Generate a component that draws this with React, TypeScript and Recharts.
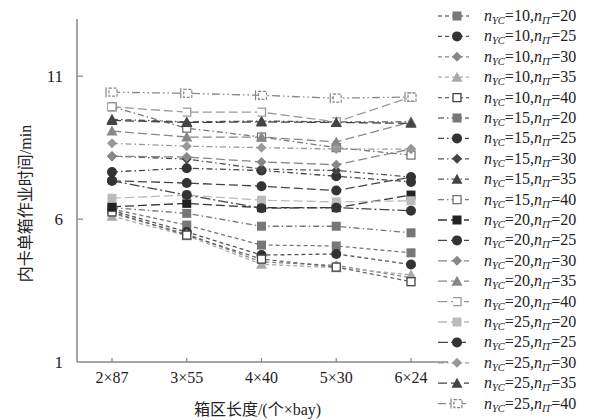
import React from 'react';
import { LineChart, Line, XAxis, YAxis, Legend } from 'recharts';

// 箱区长度 (x categories)
const categories = ['2×87', '3×55', '4×40', '5×30', '6×24'];
const yTicks = [1, 6, 11];

// 内卡单箱作业时间/min
const yc10it20 = [6.35, 5.79, 5.09, 5.06, 4.82];
const yc10it25 = [6.3, 5.55, 4.74, 4.78, 4.41];
const yc10it30 = [6.2, 5.48, 4.5, 4.38, 3.95];
const yc10it35 = [6.1, 5.42, 4.42, 4.3, 4.05];
const yc10it40 = [6.25, 5.44, 4.6, 4.32, 3.81];
const yc15it20 = [6.4, 6.2, 5.75, 5.75, 5.52];
const yc15it25 = [7.65, 7.78, 7.7, 7.5, 7.3];
const yc15it30 = [8.2, 8.1, 7.75, 7.7, 7.47];
const yc15it35 = [9.49, 9.4, 9.43, 9.4, 9.4];
const yc15it40 = [9.93, 9.18, 8.87, 8.5, 8.24];
const yc20it20 = [6.43, 6.55, 6.4, 6.4, 6.84];
const yc20it25 = [7.34, 7.26, 7.15, 7.0, 7.47];
const yc20it30 = [8.2, 8.17, 8.0, 7.9, 8.45];
const yc20it35 = [9.08, 8.87, 8.87, 8.7, 9.4];
const yc20it40 = [9.93, 9.74, 9.74, 9.4, 10.27];
const yc25it20 = [6.73, 6.84, 6.66, 6.6, 6.64];
const yc25it25 = [7.34, 6.84, 6.38, 6.4, 6.29];
const yc25it30 = [8.65, 8.55, 8.5, 8.45, 8.45];
const yc25it35 = [9.45, 9.38, 9.4, 9.38, 9.35];
const yc25it40 = [10.44, 10.4, 10.33, 10.23, 10.27];

type Shape = 'square' | 'circle' | 'diamond' | 'triangle' | 'open' | 'openBar' | 'openHalf';

interface Series {
  yc: number;
  it: number;
  values: number[];
  shape: Shape;
  fill: string;
  stroke: string;
  line: string;
  dash: string;
}

const DASH = '4 3';
const DASHDOT = '6 3 1.5 3';
const LONG = '9 4';
const LONGDOT = '10 3 2 3';
const DASHDOTDOT = '8 3 1.5 3 1.5 3';

const series: Series[] = [
  { yc: 10, it: 20, values: yc10it20, shape: 'square', fill: '#777', stroke: '#777', line: '#777', dash: DASH },
  { yc: 10, it: 25, values: yc10it25, shape: 'circle', fill: '#333', stroke: '#333', line: '#555', dash: DASH },
  { yc: 10, it: 30, values: yc10it30, shape: 'diamond', fill: '#888', stroke: '#888', line: '#888', dash: DASH },
  { yc: 10, it: 35, values: yc10it35, shape: 'triangle', fill: '#aaa', stroke: '#aaa', line: '#aaa', dash: DASH },
  { yc: 10, it: 40, values: yc10it40, shape: 'open', fill: '#fff', stroke: '#444', line: '#666', dash: DASH },
  { yc: 15, it: 20, values: yc15it20, shape: 'square', fill: '#777', stroke: '#777', line: '#777', dash: DASHDOT },
  { yc: 15, it: 25, values: yc15it25, shape: 'circle', fill: '#333', stroke: '#333', line: '#444', dash: DASHDOT },
  { yc: 15, it: 30, values: yc15it30, shape: 'diamond', fill: '#444', stroke: '#444', line: '#555', dash: DASHDOT },
  { yc: 15, it: 35, values: yc15it35, shape: 'triangle', fill: '#444', stroke: '#444', line: '#555', dash: DASHDOT },
  { yc: 15, it: 40, values: yc15it40, shape: 'open', fill: '#fff', stroke: '#777', line: '#777', dash: DASHDOT },
  { yc: 20, it: 20, values: yc20it20, shape: 'square', fill: '#222', stroke: '#222', line: '#333', dash: LONG },
  { yc: 20, it: 25, values: yc20it25, shape: 'circle', fill: '#333', stroke: '#333', line: '#444', dash: LONG },
  { yc: 20, it: 30, values: yc20it30, shape: 'diamond', fill: '#888', stroke: '#888', line: '#888', dash: LONG },
  { yc: 20, it: 35, values: yc20it35, shape: 'triangle', fill: '#888', stroke: '#888', line: '#888', dash: LONG },
  { yc: 20, it: 40, values: yc20it40, shape: 'openHalf', fill: '#fff', stroke: '#999', line: '#999', dash: LONG },
  { yc: 25, it: 20, values: yc25it20, shape: 'square', fill: '#bbb', stroke: '#bbb', line: '#bbb', dash: LONG },
  { yc: 25, it: 25, values: yc25it25, shape: 'circle', fill: '#333', stroke: '#333', line: '#444', dash: LONGDOT },
  { yc: 25, it: 30, values: yc25it30, shape: 'diamond', fill: '#999', stroke: '#999', line: '#999', dash: DASHDOT },
  { yc: 25, it: 35, values: yc25it35, shape: 'triangle', fill: '#444', stroke: '#444', line: '#444', dash: LONG },
  { yc: 25, it: 40, values: yc25it40, shape: 'openBar', fill: '#fff', stroke: '#888', line: '#888', dash: DASHDOTDOT },
];

const data = categories.map((name, i) => {
  const row: Record<string, any> = { name };
  series.forEach((s, k) => {
    row['s' + k] = s.values[i];
  });
  return row;
});

const SERIF = 'Liberation Serif, DejaVu Serif, serif';
const CJK = 'Liberation Serif, Noto Sans CJK SC, serif';

const Marker = ({ shape, cx, cy, fill, stroke }: { shape: Shape; cx: number; cy: number; fill: string; stroke: string }) => {
  const h = 4.5;
  switch (shape) {
    case 'square':
      return <rect x={cx - h} y={cy - h} width={h * 2} height={h * 2} fill={fill} />;
    case 'circle':
      return <circle cx={cx} cy={cy} r={5} fill={fill} />;
    case 'diamond':
      return <polygon points={`${cx},${cy - 5} ${cx + 5},${cy} ${cx},${cy + 5} ${cx - 5},${cy}`} fill={fill} />;
    case 'triangle':
      return <polygon points={`${cx},${cy - 5.5} ${cx + 5.5},${cy + 4.5} ${cx - 5.5},${cy + 4.5}`} fill={fill} />;
    case 'open':
      return <rect x={cx - 4} y={cy - 4} width={8} height={8} fill="#fff" stroke={stroke} strokeWidth={1.3} />;
    case 'openHalf':
      return (
        <g>
          <rect x={cx - 4} y={cy - 4} width={8} height={8} fill="#fff" stroke="none" />
          <path d={`M${cx - 4},${cy - 4} H${cx + 4} V${cy + 4} H${cx - 4}`} fill="none" stroke={stroke} strokeWidth={1.3} />
        </g>
      );
    case 'openBar':
      return (
        <g>
          <rect x={cx - 3} y={cy - 4} width={8} height={8} fill="#fff" stroke={stroke} strokeWidth={1.2} strokeDasharray="3 1.5" />
          <line x1={cx - 6} x2={cx - 6} y1={cy - 5} y2={cy + 5} stroke={stroke} strokeWidth={1.2} />
        </g>
      );
    default:
      return null;
  }
};

const makeDot = (s: Series, k: number) => (props: any) => (
  <Marker key={`dot-${k}-${props.index}`} shape={s.shape} cx={props.cx} cy={props.cy} fill={s.fill} stroke={s.stroke} />
);

const YTick = (props: any) => {
  const { x, y, payload } = props;
  const ax = x + 8; // tickSize + tickMargin back to the axis line
  return (
    <g>
      {payload.value !== 1 && <line x1={ax} x2={ax + 6} y1={y} y2={y} stroke="#888" strokeWidth={1.2} />}
      <text x={ax - 14} y={y} dy="0.35em" textAnchor="end" fontFamily={SERIF} fontSize={17} fill="#222">
        {payload.value}
      </text>
    </g>
  );
};

const XTick = (props: any) => {
  const { x, y, payload } = props;
  const ay = y - 8;
  return (
    <g>
      <line x1={x} x2={x} y1={ay} y2={ay - 4} stroke="#888" strokeWidth={1.2} />
      <text x={x} y={ay + 21} textAnchor="middle" fontFamily={SERIF} fontSize={16} fill="#222">
        {payload.value}
      </text>
    </g>
  );
};

const LegendBox = () => (
  <svg width={165} height={420}>
    {series.map((s, i) => {
      const y = 16 + i * 20.4;
      return (
        <g key={i}>
          <line x1={3} x2={34} y1={y} y2={y} stroke={s.line} strokeWidth={1.3} strokeDasharray={s.dash} />
          <Marker shape={s.shape} cx={22} cy={y} fill={s.fill} stroke={s.stroke} />
          <text x={49} y={y + 5} fontFamily={SERIF} fontSize={16} fill="#222">
            <tspan fontStyle="italic">n</tspan>
            <tspan fontStyle="italic" fontSize={10.5} dy={3}>YC</tspan>
            <tspan dy={-3}>={s.yc},</tspan>
            <tspan fontStyle="italic">n</tspan>
            <tspan fontStyle="italic" fontSize={10.5} dy={3}>IT</tspan>
            <tspan dy={-3}>={s.it}</tspan>
          </text>
        </g>
      );
    })}
  </svg>
);

export default function App() {
  return (
    <div style={{ position: 'absolute', left: 0, top: 0, background: '#fff' }}>
      <LineChart width={600} height={420} data={data} margin={{ top: 19, right: 152, bottom: 18, left: 0 }}>
        <XAxis
          dataKey="name"
          type="category"
          padding={{ left: 35, right: 37 }}
          axisLine={{ stroke: '#888', strokeWidth: 1.5 }}
          tickLine={false}
          tick={<XTick />}
          height={40}
          interval={0}
          label={{
            content: ({ viewBox }: any) => (
              <text
                x={viewBox.x + viewBox.width / 2 - 5}
                y={viewBox.y + 53}
                textAnchor="middle"
                fontFamily={CJK}
                fontSize={16}
                fill="#222"
              >
                箱区长度/(个×bay)
              </text>
            ),
          }}
        />
        <YAxis
          type="number"
          domain={[1, 13]}
          ticks={yTicks}
          width={77}
          axisLine={{ stroke: '#888', strokeWidth: 1.5 }}
          tickLine={false}
          tick={<YTick />}
          label={{
            content: ({ viewBox }: any) => {
              const cx = viewBox.x + 25;
              const cy = viewBox.y + viewBox.height / 2 + 13;
              return (
                <text
                  x={cx}
                  y={cy}
                  transform={`rotate(-90, ${cx}, ${cy})`}
                  textAnchor="middle"
                  dominantBaseline="central"
                  fontFamily={CJK}
                  fontSize={16}
                  fill="#222"
                >
                  内卡单箱作业时间/min
                </text>
              );
            },
          }}
        />
        <Legend
          layout="horizontal"
          verticalAlign="middle"
          align="center"
          content={() => <LegendBox />}
          wrapperStyle={{ position: 'absolute', left: 435, top: 0, width: 165, height: 420 }}
        />
        {series.map((s, k) => (
          <Line
            key={k}
            dataKey={'s' + k}
            name={`nYC=${s.yc},nIT=${s.it}`}
            stroke={s.line}
            strokeWidth={1.3}
            strokeDasharray={s.dash}
            dot={makeDot(s, k)}
            activeDot={false}
            isAnimationActive={false}
          />
        ))}
      </LineChart>
    </div>
  );
}
